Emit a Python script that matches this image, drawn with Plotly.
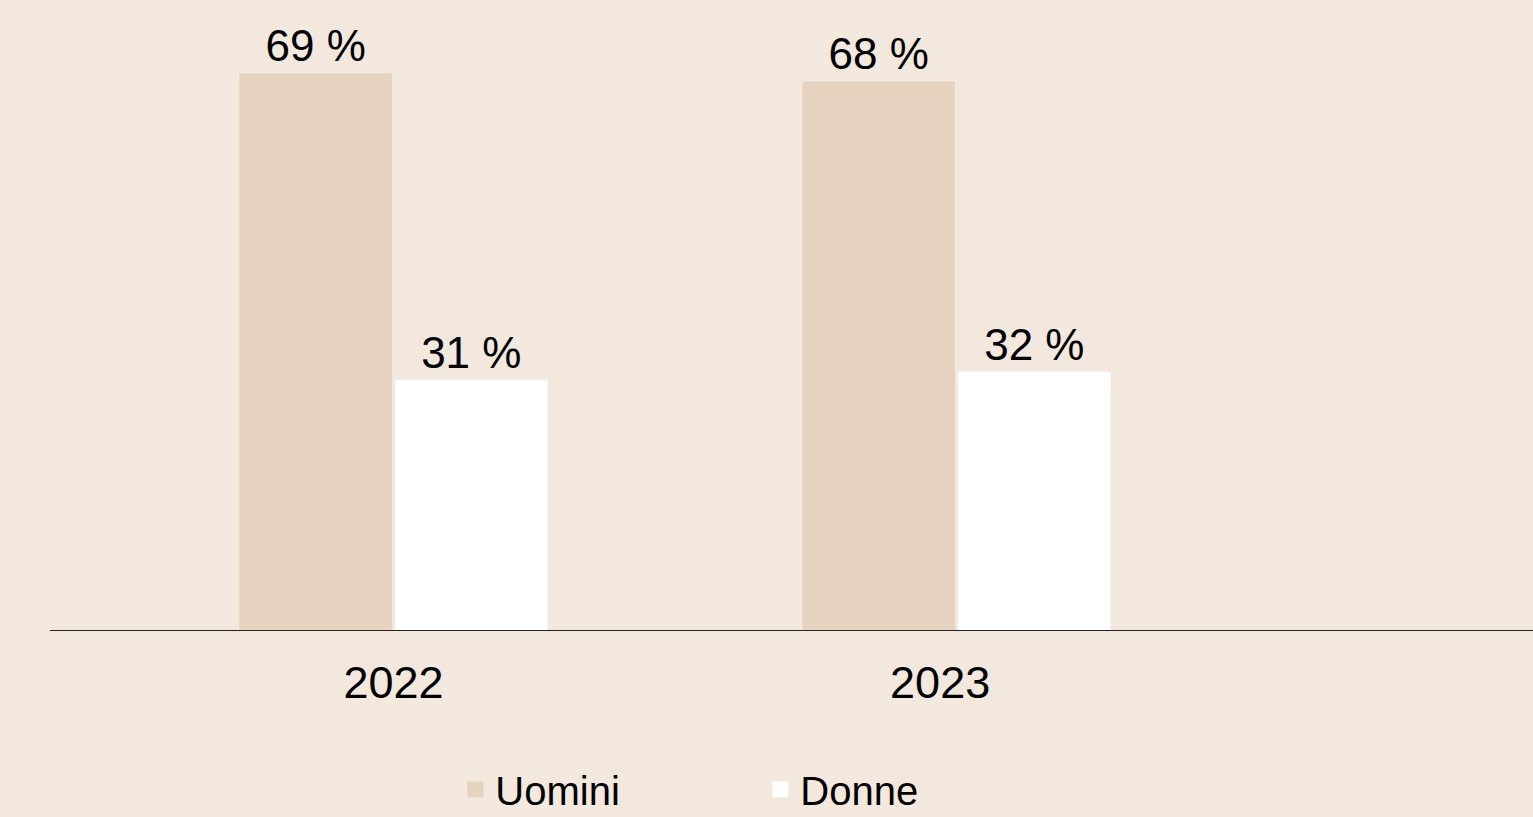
import plotly.graph_objects as go

years = ["2022", "2023"]
uomini = [69, 68]
donne = [31, 32]
series_names = ["Uomini", "Donne"]
tick_labels = ["2022", "2023"]

BG = "#F2E8DD"
C_UOMINI = "#E5D3BF"
C_DONNE = "#FFFFFF"
FONT = "Liberation Sans, Arial, Helvetica, sans-serif"

fig = go.Figure()
for name, vals, col in [(series_names[0], uomini, C_UOMINI), (series_names[1], donne, C_DONNE)]:
    fig.add_trace(go.Bar(
        x=years, y=vals, name=name, legendgroup=name, showlegend=False,
        marker=dict(color=col, line=dict(width=0)),
        text=[f"{v} %" for v in vals],
        textposition="outside",
        textfont=dict(family=FONT, size=44, color="#000000"),
        cliponaxis=False,
    ))
# legend entries with larger square symbols
for name, col in [(series_names[0], C_UOMINI), (series_names[1], C_DONNE)]:
    fig.add_trace(go.Scatter(
        x=[None], y=[None], mode="markers", name=name, legendgroup=name,
        marker=dict(symbol="square", size=40, color=col, line=dict(width=0)),
        showlegend=True, hoverinfo="skip",
    ))

fig.update_layout(
    width=1533, height=817,
    paper_bgcolor=BG, plot_bgcolor=BG,
    margin=dict(l=50, r=0, t=20, b=187, autoexpand=False),
    barmode="group", bargap=0.447, bargroupgap=0.02,
    font=dict(family=FONT, size=42, color="#000000"),
    showlegend=True,
    legend=dict(
        orientation="h", x=0.479, xanchor="center", y=-0.208, yanchor="top",
        font=dict(family=FONT, size=40, color="#000000"),
        bgcolor="rgba(0,0,0,0)", entrywidth=260, entrywidthmode="pixels",
        traceorder="normal", itemsizing="trace",
    ),
    xaxis=dict(
        type="category", range=[-0.61, 2.024],
        showline=True, linecolor="#222222", linewidth=1,
        showgrid=False, zeroline=False,
        ticks="outside", ticklen=13, tickcolor="rgba(0,0,0,0)",
        tickmode="array", tickvals=[0, 0.971], ticktext=tick_labels,
        tickfont=dict(family=FONT, size=45, color="#000000"),
    ),
    yaxis=dict(
        range=[0, 75.6], visible=False, showgrid=False, zeroline=False,
    ),
)

fig.write_html(
    "out.html",
    config={"displayModeBar": False},
    post_script="document.body.style.margin='0';document.body.style.overflow='hidden';",
)
